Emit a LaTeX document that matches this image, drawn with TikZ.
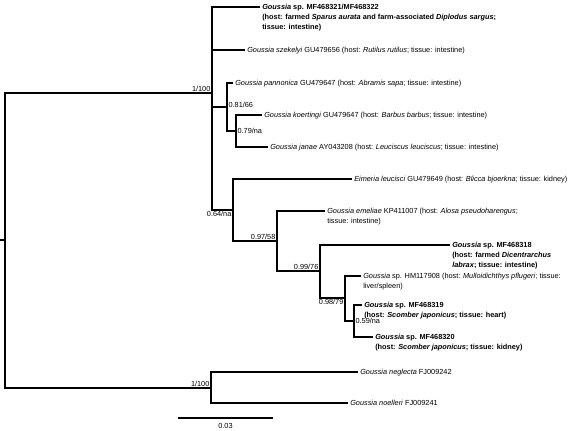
\documentclass[tikz,border=0pt]{standalone}
\usepackage{fontspec}
\setmainfont{Liberation Sans}
\usetikzlibrary{calc}
\newcommand\lbl[1]{\begin{tabular}[t]{@{}l@{}}#1\end{tabular}}
\begin{document}
\begin{tikzpicture}[x=0.75pt,y=-0.75pt,
  br/.style={line width=0.9pt},
  tip/.style={anchor=base west, inner sep=0pt, font=\fontsize{5.5}{7.5}\selectfont},
  sup/.style={inner sep=1pt, font=\fontsize{5.5}{7.5}\selectfont}]
\useasboundingbox (0,0) rectangle (568,431);
% internal nodes
\coordinate (R0) at (0,240);
\coordinate (R) at (5,240);
\coordinate (A) at (212,93);
\coordinate (B) at (227,107);
\coordinate (C) at (236,131);
\coordinate (D) at (233,210);
\coordinate (E) at (277,241);
\coordinate (F) at (320,271);
\coordinate (G) at (345,298);
\coordinate (H) at (354,321);
\coordinate (L) at (211,388);
% tip ends
\coordinate (e1) at (260,7);
\coordinate (e2) at (245,50);
\coordinate (e3) at (233,83);
\coordinate (e4) at (262,115);
\coordinate (e5) at (268,147);
\coordinate (e6) at (352,179);
\coordinate (e7) at (325,211);
\coordinate (e8) at (450,245);
\coordinate (e9) at (361,276);
\coordinate (e10) at (362,305);
\coordinate (e11) at (373,337);
\coordinate (e12) at (358,372);
\coordinate (e13) at (348,403);
% branches
\draw[br] (R0) -- (R);
\draw[br] (R) |- (A);
\draw[br] (R) |- (L);
\draw[br] (A) |- (e1);
\draw[br] (A) |- (e2);
\draw[br] (A) |- (B);
\draw[br] (A) |- (D);
\draw[br] (B) |- (e3);
\draw[br] (B) |- (C);
\draw[br] (C) |- (e4);
\draw[br] (C) |- (e5);
\draw[br] (D) |- (e6);
\draw[br] (D) |- (E);
\draw[br] (E) |- (e7);
\draw[br] (E) |- (F);
\draw[br] (F) |- (e8);
\draw[br] (F) |- (G);
\draw[br] (G) |- (e9);
\draw[br] (G) |- (H);
\draw[br] (H) |- (e10);
\draw[br] (H) |- (e11);
\draw[br] (L) |- (e12);
\draw[br] (L) |- (e13);
% tip labels
\node[tip] (t1) at ([xshift=1.5pt,yshift=-1.9pt]e1) {\lbl{\textbf{\textit{Goussia} sp. MF468321/MF468322}\\\textbf{(host: farmed \textit{Sparus aurata} and farm-associated \textit{Diplodus sargus};}\\\textbf{tissue: intestine)}}};
\node[tip] (t2) at ([xshift=1.5pt,yshift=-1.9pt]e2) {\textit{Goussia szekelyi} GU479656 (host: \textit{Rutilus rutilus}; tissue: intestine)};
\node[tip] (t3) at ([xshift=1.5pt,yshift=-1.9pt]e3) {\textit{Goussia pannonica} GU479647 (host: \textit{Abramis sapa}; tissue: intestine)};
\node[tip] (t4) at ([xshift=1.5pt,yshift=-1.9pt]e4) {\textit{Goussia koertingi} GU479647 (host: \textit{Barbus barbus}; tissue: intestine)};
\node[tip] (t5) at ([xshift=1.5pt,yshift=-1.9pt]e5) {\textit{Goussia janae} AY043208 (host: \textit{Leuciscus leuciscus}; tissue: intestine)};
\node[tip] (t6) at ([xshift=1.5pt,yshift=-1.9pt]e6) {\textit{Eimeria leucisci} GU479649 (host: \textit{Blicca bjoerkna}; tissue: kidney)};
\node[tip] (t7) at ([xshift=1.5pt,yshift=-1.9pt]e7) {\lbl{\textit{Goussia emeliae} KP411007 (host: \textit{Alosa pseudoharengus};\\tissue: intestine)}};
\node[tip] (t8) at ([xshift=1.5pt,yshift=-1.9pt]e8) {\lbl{\textbf{\textit{Goussia} sp. MF468318}\\\textbf{(host: farmed \textit{Dicentrarchus}}\\\textbf{\textit{labrax}; tissue: intestine)}}};
\node[tip] (t9) at ([xshift=1.5pt,yshift=-1.9pt]e9) {\lbl{\textit{Goussia} sp. HM117908 (host: \textit{Mulloidichthys pflugeri}; tissue:\\liver/spleen)}};
\node[tip] (t10) at ([xshift=1.5pt,yshift=-1.9pt]e10) {\lbl{\textbf{\textit{Goussia} sp. MF468319}\\\textbf{(host: \textit{Scomber japonicus}; tissue: heart)}}};
\node[tip] (t11) at ([xshift=1.5pt,yshift=-1.9pt]e11) {\lbl{\textbf{\textit{Goussia} sp. MF468320}\\\textbf{(host: \textit{Scomber japonicus}; tissue: kidney)}}};
\node[tip] (t12) at ([xshift=1.5pt,yshift=-1.9pt]e12) {\textit{Goussia neglecta} FJ009242};
\node[tip] (t13) at ([xshift=1.5pt,yshift=-1.9pt]e13) {\textit{Goussia noelleri} FJ009241};
% support values
\node[sup, anchor=south east] (sA) at (A) {1/100};
\node[sup, anchor=west] (sB) at ([yshift=1.5pt]B) {0.81/66};
\node[sup, anchor=west] (sC) at (C) {0.79/na};
\node[sup, anchor=north east] (sD) at (D) {0.64/na};
\node[sup, anchor=south east] (sE) at (E) {0.97/58};
\node[sup, anchor=south east] (sF) at (F) {0.99/76};
\node[sup, anchor=north east] (sG) at (G) {0.98/79};
\node[sup, anchor=west] (sH) at (H) {0.59/na};
\node[sup, anchor=south east] (sL) at (L) {1/100};
% scale bar
\coordinate (s1) at (178,418);
\coordinate (s2) at (273,418);
\draw[br] (s1) -- (s2);
\node[sup, anchor=north] (sl) at ([yshift=-3pt]$(s1)!0.5!(s2)$) {0.03};
\end{tikzpicture}
\end{document}
